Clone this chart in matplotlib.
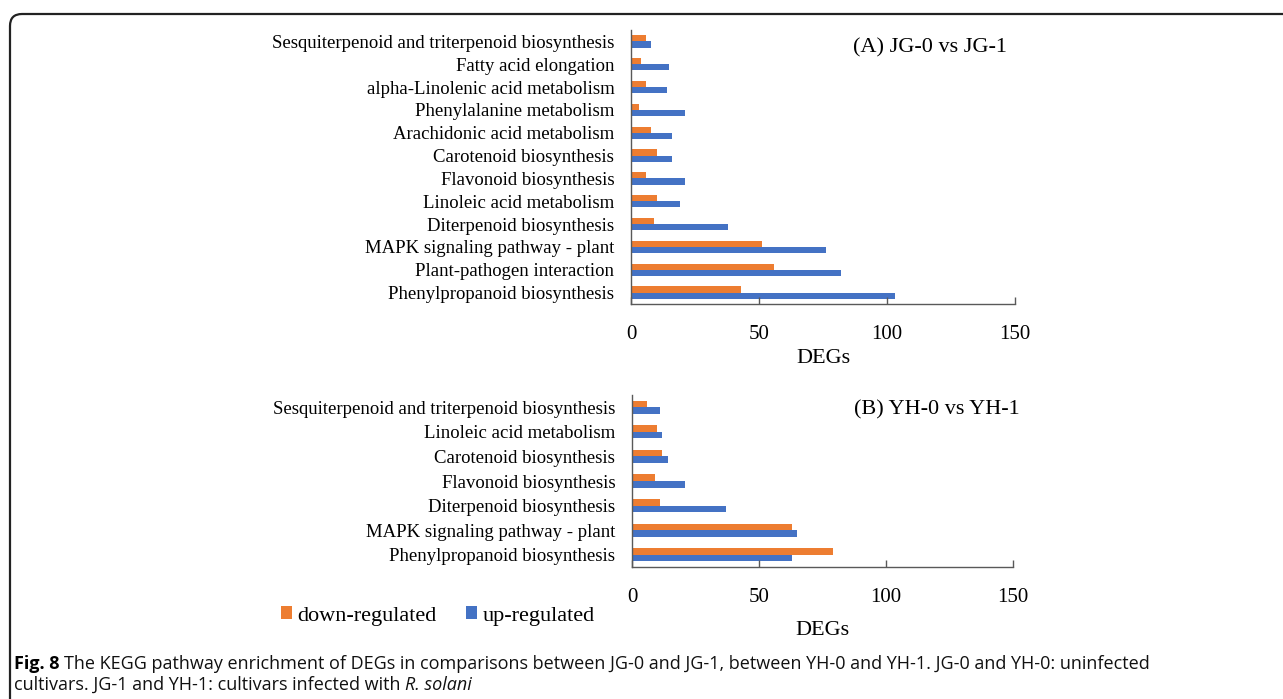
import matplotlib
matplotlib.use("Agg")
import matplotlib.pyplot as plt
import numpy as np
from matplotlib.patches import FancyBboxPatch
from matplotlib.transforms import IdentityTransform

# ---------------- data ----------------
cats_a = ["Sesquiterpenoid and triterpenoid biosynthesis", "Fatty acid elongation",
          "alpha-Linolenic acid metabolism", "Phenylalanine metabolism",
          "Arachidonic acid metabolism", "Carotenoid biosynthesis",
          "Flavonoid biosynthesis", "Linoleic acid metabolism",
          "Diterpenoid biosynthesis", "MAPK signaling pathway - plant",
          "Plant-pathogen interaction", "Phenylpropanoid biosynthesis"]
down_a = [6, 4, 6, 3, 8, 10, 6, 10, 9, 51, 56, 43]
up_a = [8, 15, 14, 21, 16, 16, 21, 19, 38, 76, 82, 103]

cats_b = ["Sesquiterpenoid and triterpenoid biosynthesis", "Linoleic acid metabolism",
          "Carotenoid biosynthesis", "Flavonoid biosynthesis",
          "Diterpenoid biosynthesis", "MAPK signaling pathway - plant",
          "Phenylpropanoid biosynthesis"]
down_b = [6, 10, 12, 9, 11, 63, 79]
up_b = [11, 12, 14, 21, 37, 65, 63]

x_ticks = [0, 50, 100, 150]
title_a = "(A) JG-0 vs JG-1"
title_b = "(B) YH-0 vs YH-1"
series_names = ["down-regulated", "up-regulated"]
xlabel = "DEGs"

ORANGE = "#ED7D31"
BLUE = "#4472C4"
AXC = "#595959"
SERIF = ["Liberation Serif", "DejaVu Serif"]

W, H = 1283, 699
fig = plt.figure(figsize=(W / 100, H / 100), dpi=100)


def px_axes(left, top, right, bottom):
    return fig.add_axes([left / W, 1 - bottom / H, (right - left) / W, (bottom - top) / H])


def panel(ax, cats, down, up, title, title_xy, labelpad):
    n = len(cats)
    y = np.arange(n)[::-1]
    h = 0.27
    ax.barh(y + h / 2, down, height=h, color=ORANGE, label=series_names[0])
    ax.barh(y - h / 2, up, height=h, color=BLUE, label=series_names[1])
    ax.set_ylim(-0.5, n - 0.5)
    ax.set_xlim(0, 150)
    ax.set_yticks(y)
    ax.set_yticklabels(cats, fontsize=13.5, family=SERIF)
    ax.tick_params(axis="y", length=0, pad=12)
    ax.set_xticks(x_ticks)
    ax.set_xticklabels([str(t) for t in x_ticks], fontsize=15, family=SERIF)
    ax.tick_params(axis="x", direction="in", length=5, width=1, color=AXC, pad=15)
    for s in ["top", "right"]:
        ax.spines[s].set_visible(False)
    for s in ["left", "bottom"]:
        ax.spines[s].set_color(AXC)
        ax.spines[s].set_linewidth(1)
    ax.set_xlabel(xlabel, fontsize=16, family=SERIF, labelpad=labelpad)
    ax.text(title_xy[0], title_xy[1], title, transform=ax.transAxes, ha="right", va="center",
            fontsize=16, family=SERIF)


ax1 = px_axes(631, 30, 1015, 304)
panel(ax1, cats_a, down_a, up_a, title_a, (0.979, 0.935), 4)
ax2 = px_axes(632, 395, 1013, 567)
panel(ax2, cats_b, down_b, up_b, title_b, (1.018, 0.915), 10)

handles, labels = ax2.get_legend_handles_labels()
fig.legend(handles, labels, loc="center left", bbox_to_anchor=(281 / W, 1 - 616 / H),
           ncol=2, frameon=False, prop={"family": SERIF, "size": 16},
           borderpad=0, borderaxespad=0,
           handlelength=0.5, handleheight=0.5, handletextpad=0.25, columnspacing=1.3)

# border
box = FancyBboxPatch((10, -30), 1300, (H - 14) + 30, boxstyle="round,pad=0,rounding_size=12",
                     transform=IdentityTransform(), fill=False, edgecolor="#222222",
                     linewidth=1.6, figure=fig)
fig.patches.append(box)

# caption
CAPF = ["Open Sans", "DejaVu Sans"]
renderer = fig.canvas.get_renderer()
line1 = "The KEGG pathway enrichment of DEGs in comparisons between JG-0 and JG-1, between YH-0 and YH-1. JG-0 and YH-0: uninfected"
target_right = 1226
cap_size = 12.0
y1 = 1 - 664 / H
y2 = 1 - 685 / H
# fit caption line width to the reference
for _ in range(3):
    tb = fig.text(14 / W, y1, "Fig. 8", fontsize=cap_size, fontweight="bold", family=CAPF, va="center")
    bb = tb.get_window_extent(renderer)
    tr = fig.text((bb.x1 + 4) / W, y1, line1, fontsize=cap_size, family=CAPF, va="center")
    right = tr.get_window_extent(renderer).x1
    tb.remove()
    tr.remove()
    cap_size *= (target_right - 14) / (right - 14)
cap_size = min(cap_size, 13.0)

t_bold = fig.text(14 / W, y1, "Fig. 8", fontsize=cap_size, fontweight="bold", family=CAPF, va="center")
bb = t_bold.get_window_extent(renderer)
fig.text((bb.x1 + 4) / W, y1, line1, fontsize=cap_size, family=CAPF, va="center", color="#111111")
t2 = fig.text(14 / W, y2, "cultivars. JG-1 and YH-1: cultivars infected with ", fontsize=cap_size,
              family=CAPF, va="center", color="#111111")
bb2 = t2.get_window_extent(renderer)
fig.text(bb2.x1 / W, y2, "R. solani", fontsize=cap_size, family=CAPF, style="italic",
         va="center", color="#111111")

fig.savefig("out.png", dpi=100)
